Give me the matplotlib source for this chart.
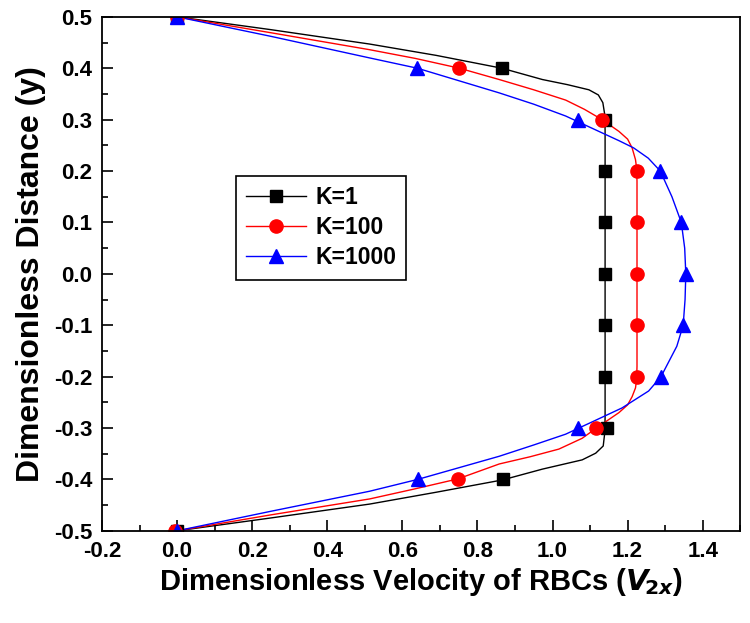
import matplotlib
matplotlib.use('Agg')
import matplotlib.pyplot as plt
from matplotlib.ticker import MultipleLocator

plt.rcParams['font.family'] = ['Liberation Sans', 'DejaVu Sans']
plt.rcParams['font.weight'] = 'bold'

# marker positions
y_pts = [0.5, 0.4, 0.3, 0.2, 0.1, 0.0, -0.1, -0.2, -0.3, -0.4, -0.5]
k1_x = [0, 0.865, 1.14, 1.14, 1.14, 1.14, 1.14, 1.14, 1.145, 0.867, 0]
k100_x = [0, 0.752, 1.132, 1.225, 1.225, 1.225, 1.225, 1.225, 1.117, 0.748, -0.005]
k1000_x = [0, 0.640, 1.069, 1.287, 1.343, 1.355, 1.348, 1.289, 1.069, 0.641, 0]

# the thin lines (denser points)
k1_line_x = [0, 0.25, 0.513, 0.69, 0.865, 0.973, 1.04, 1.097, 1.122, 1.134, 1.139, 1.14, 1.14,
             1.139, 1.135, 1.115, 1.079, 0.973, 0.867, 0.69, 0.513, 0.25, 0]
k1_line_y = [0.5, 0.475, 0.447, 0.425, 0.4, 0.378, 0.368, 0.358, 0.348, 0.333, 0.31, 0.28, -0.28,
             -0.31, -0.335, -0.349, -0.362, -0.38, -0.401, -0.425, -0.448, -0.475, -0.5]

k100_line_x = [0, 0.25, 0.513, 0.635, 0.752, 0.858, 0.95, 1.035, 1.085, 1.132, 1.177, 1.20,
               1.212, 1.221, 1.224, 1.225, 1.225, 1.224, 1.221, 1.212, 1.20, 1.177, 1.117,
               1.079, 1.017, 0.94, 0.858, 0.748, 0.63, 0.513, 0.25, 0]
k100_line_y = [0.5, 0.469, 0.436, 0.419, 0.4, 0.378, 0.358, 0.338, 0.32, 0.3, 0.277, 0.262,
               0.245, 0.222, 0.205, 0.18, -0.18, -0.205, -0.222, -0.239, -0.255, -0.27, -0.3,
               -0.32, -0.341, -0.356, -0.37, -0.399, -0.419, -0.438, -0.469, -0.5]

k1000_line_x = [0, 0.25, 0.513, 0.640, 0.858, 0.95, 1.035, 1.10, 1.177, 1.216, 1.255, 1.287,
                1.318, 1.343, 1.352, 1.355, 1.353, 1.348, 1.331, 1.289, 1.256, 1.185, 1.10,
                1.035, 0.95, 0.858, 0.641, 0.513, 0.25, 0]
k1000_line_y = [0.5, 0.462, 0.42, 0.4, 0.352, 0.33, 0.307, 0.285, 0.259, 0.245, 0.225, 0.2,
                0.15, 0.1, 0.05, 0.0, -0.05, -0.1, -0.141, -0.2, -0.228, -0.261, -0.29,
                -0.312, -0.333, -0.355, -0.4, -0.423, -0.462, -0.5]

fig = plt.figure(figsize=(7.5, 6.23), dpi=100)
ax = fig.add_axes([0.136, 0.148, 0.851, 0.825])

ax.plot(k1_line_x, k1_line_y, color='black', lw=1.0)
ax.plot(k100_line_x, k100_line_y, color='red', lw=1.0)
ax.plot(k1000_line_x, k1000_line_y, color='blue', lw=1.0)

ax.plot(k1_x, y_pts, 's', color='black', ms=8.5, ls='none')
ax.plot(k100_x, y_pts, 'o', color='red', ms=9.5, ls='none')
ax.plot(k1000_x, y_pts, '^', color='blue', ms=10.5, ls='none')

# legend proxies
h1, = ax.plot([], [], color='black', lw=1.0, marker='s', ms=8.5, label='K=1')
h2, = ax.plot([], [], color='red', lw=1.0, marker='o', ms=9.5, label='K=100')
h3, = ax.plot([], [], color='blue', lw=1.0, marker='^', ms=10.5, label='K=1000')
leg = ax.legend(handles=[h1, h2, h3], loc='upper left', bbox_to_anchor=(0.21, 0.69),
                fancybox=False, edgecolor='black', framealpha=1, fontsize=16.5,
                handlelength=2.6, borderpad=0.45, labelspacing=0.3, handletextpad=0.4,
                borderaxespad=0)
leg.get_frame().set_linewidth(1.2)
for t in leg.get_texts():
    t.set_fontweight('bold')

ax.set_xlim(-0.2, 1.5)
ax.set_ylim(-0.5, 0.5)
ax.xaxis.set_minor_locator(MultipleLocator(0.1))
ax.yaxis.set_minor_locator(MultipleLocator(0.05))
ax.set_xticks([-0.2, 0.0, 0.2, 0.4, 0.6, 0.8, 1.0, 1.2, 1.4])
ax.set_xticklabels(['-0.2', '0.0', '0.2', '0.4', '0.6', '0.8', '1.0', '1.2', '1.4'])
ax.set_yticks([0.5, 0.4, 0.3, 0.2, 0.1, 0.0, -0.1, -0.2, -0.3, -0.4, -0.5])
ax.set_yticklabels(['0.5', '0.4', '0.3', '0.2', '0.1', '0.0', '-0.1', '-0.2', '-0.3', '-0.4', '-0.5'])

ax.tick_params(which='both', direction='in', top=False, right=False, width=1.2)
ax.tick_params(which='major', length=8, labelsize=16, pad=7)
ax.tick_params(which='minor', length=4)
for lab in ax.get_xticklabels() + ax.get_yticklabels():
    lab.set_fontweight('bold')
for s in ax.spines.values():
    s.set_linewidth(1.3)

ax.set_xlabel(r'Dimensionless Velocity of RBCs ($\mathit{V}_{\!\mathit{2x}}$)',
              fontsize=21, fontweight='bold', labelpad=3)
ax.set_ylabel('Dimensionless Distance (y)', fontsize=23, fontweight='bold', labelpad=6)

fig.savefig('out.png', dpi=100)
